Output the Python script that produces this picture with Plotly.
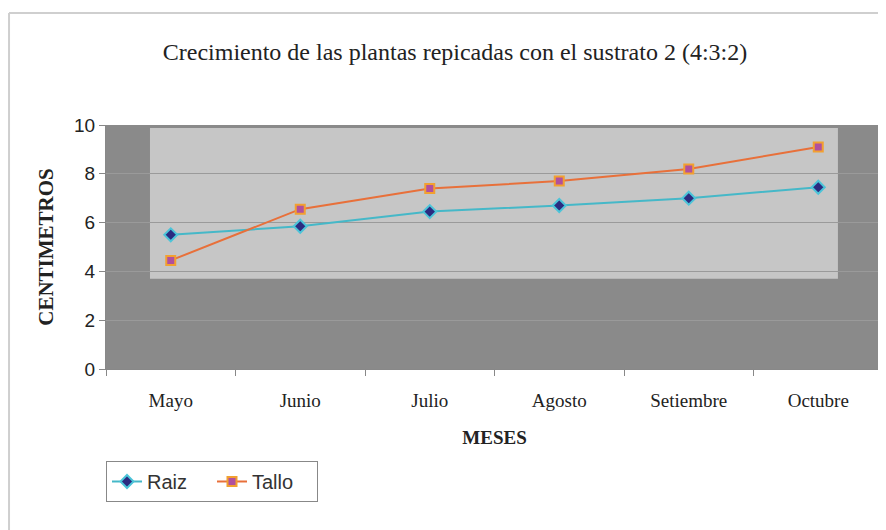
import plotly.graph_objects as go

meses = ["Mayo", "Junio", "Julio", "Agosto", "Setiembre", "Octubre"]
raiz = [5.5, 5.85, 6.45, 6.7, 7.0, 7.45]
tallo = [4.45, 6.55, 7.4, 7.7, 8.2, 9.1]
y_ticks = [0, 2, 4, 6, 8, 10]

serif = "Liberation Serif, Times New Roman, serif"
sans = "Liberation Sans, Arial, sans-serif"

fig = go.Figure()
fig.add_trace(go.Scatter(
    x=meses, y=raiz, name="Raiz", mode="lines+markers",
    line=dict(color="#45b8c8", width=2),
    marker=dict(symbol="diamond", size=10, color="#2b2b80",
                line=dict(color="#4cc4d8", width=2)),
))
fig.add_trace(go.Scatter(
    x=meses, y=tallo, name="Tallo", mode="lines+markers",
    line=dict(color="#e8703a", width=2),
    marker=dict(symbol="square", size=9, color="#b0509e",
                line=dict(color="#f2a030", width=2)),
))

# lighter inner panel (as in the reference image)
fig.add_shape(type="rect", xref="paper", yref="y", x0=0.0566, x1=0.942, y0=3.7, y1=9.88,
              fillcolor="#c6c6c6", line=dict(width=0), layer="below")
# outer chart border (top and left edges)
fig.add_shape(type="line", xref="paper", yref="paper", x0=-0.1248, x1=1.01, y0=1.459, y1=1.459,
              line=dict(color="#cfcfcf", width=2), layer="below")
fig.add_shape(type="line", xref="paper", yref="paper", x0=-0.1248, x1=-0.1248, y0=1.459, y1=-0.7,
              line=dict(color="#cfcfcf", width=2), layer="below")

fig.update_layout(
    width=886, height=530,
    margin=dict(l=98, r=11, t=117, b=169),
    paper_bgcolor="white",
    plot_bgcolor="#8a8a8a",
    title=dict(text="Crecimiento de las plantas repicadas con el sustrato 2 (4:3:2)",
               x=0.5045, xanchor="center", y=0.917, yanchor="middle",
               font=dict(family=serif, size=24, color="#222")),
    showlegend=True,
    legend=dict(orientation="h", x=0, xanchor="left", y=-0.377, yanchor="top",
                bgcolor="white", bordercolor="#888", borderwidth=1,
                font=dict(family=sans, size=20, color="#333"),
                entrywidth=60, entrywidthmode="pixels",
                itemwidth=30, tracegroupgap=0),
    xaxis=dict(
        type="category", tickson="boundaries", ticks="outside", ticklen=6,
        tickcolor="#888", showline=True, linecolor="#888", showgrid=False,
        ticklabelstandoff=14,
        tickfont=dict(family=serif, size=19, color="#222"),
        title=dict(text="<b>MESES</b>", font=dict(family=serif, size=19, color="#222"),
                   standoff=20),
        range=[-0.5, 5.5],
    ),
    yaxis=dict(
        range=[0, 10], tickvals=y_ticks, ticks="outside", ticklen=6, tickcolor="#888",
        showline=True, linecolor="#888", showgrid=True, gridcolor="#9a9a9a",
        zeroline=False,
        tickfont=dict(family=sans, size=19, color="#222"),
        title=dict(text="<b>CENTIMETROS</b>", font=dict(family=serif, size=21, color="#222"),
                   standoff=14),
    ),
)

fig.write_html("out.html")
